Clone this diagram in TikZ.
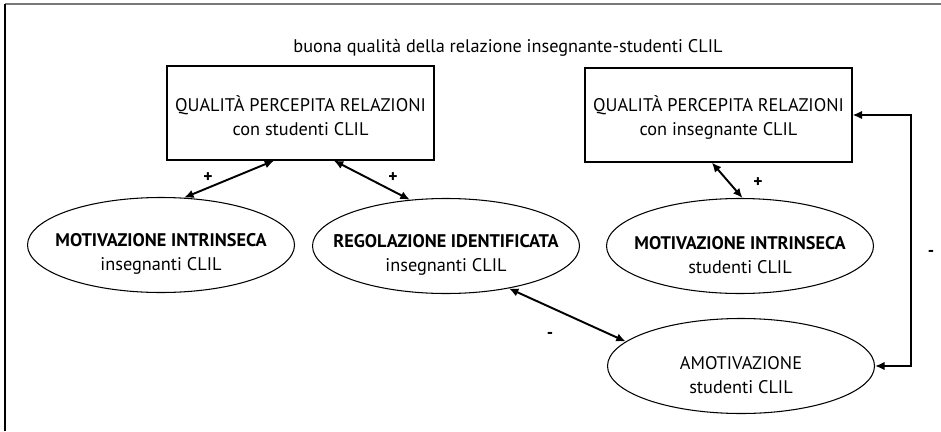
\documentclass[tikz,border=0pt]{standalone}
\usepackage{fontspec}
\setmainfont{PT Sans}
\usetikzlibrary{shapes.geometric,arrows.meta}
\definecolor{framegray}{RGB}{120,120,120}
\definecolor{inkblack}{RGB}{0,0,0}

\begin{document}
\begin{tikzpicture}[>={Latex[length=1.9mm,width=1.7mm]}, font=\fontsize{10.4}{13.6}\selectfont,
    relbox/.style={draw=inkblack, line width=0.6pt, minimum width=5.34cm, minimum height=1.88cm, text height=0.9cm, align=center},
    motell/.style={draw=inkblack, ellipse, line width=0.6pt, minimum width=5.34cm, minimum height=1.9cm, inner xsep=-1cm, inner ysep=0pt, text height=1.1cm, align=center},
    link/.style={<->, inkblack, line width=1.1pt},
    sign/.style={font=\fontsize{10}{12}\selectfont\bfseries}]
    \useasboundingbox (0,0) rectangle (18.82,8.62);

    % Frame
    \draw[framegray, line width=0.8pt] (0.1,8.54) -- (18.82,8.54);
    \draw[inkblack, line width=0.8pt] (0.1,0) -- (0.1,8.54);

    % Title
    \node (title) at (10.16,7.66) {buona qualità della relazione insegnante-studenti CLIL};

    % Relations
    \node[relbox] (relT) at (6.01,6.36) {QUALITÀ PERCEPITA RELAZIONI\\con studenti CLIL};
    \node[relbox] (relS) at (14.37,6.32) {QUALITÀ PERCEPITA RELAZIONI\\con insegnante CLIL};

    % Motivation
    \node[motell] (motT) at (3.22,3.72) {\textbf{MOTIVAZIONE INTRINSECA}\\insegnanti CLIL};
    \node[motell] (regT) at (8.92,3.70) {\textbf{REGOLAZIONE IDENTIFICATA}\\insegnanti CLIL};
    \node[motell] (motS) at (14.80,3.70) {\textbf{MOTIVAZIONE INTRINSECA}\\studenti CLIL};
    \node[motell] (amoS) at (14.82,1.30) {AMOTIVAZIONE\\studenti CLIL};

    % Links
    \draw[link] (motT.64) -- (relT.241);
    \draw[link] (relT.305) -- (regT.128);
    \draw[link] (relS.262) -- (motS.87);
    \draw[link] (regT.-34) -- (amoS.168);
    \draw[link] (relS.east) -- ++(1.16,0) |- (amoS.east);

    % Signs
    \node[sign] (s1) at (4.16,5.06) {+};
    \node[sign] (s2) at (7.86,5.06) {+};
    \node[sign] (s3) at (15.16,4.96) {+};
    \node[sign] (s4) at (11.0,1.92) {-};
    \node[sign] (s5) at (18.62,3.56) {-};
\end{tikzpicture}
\end{document}
